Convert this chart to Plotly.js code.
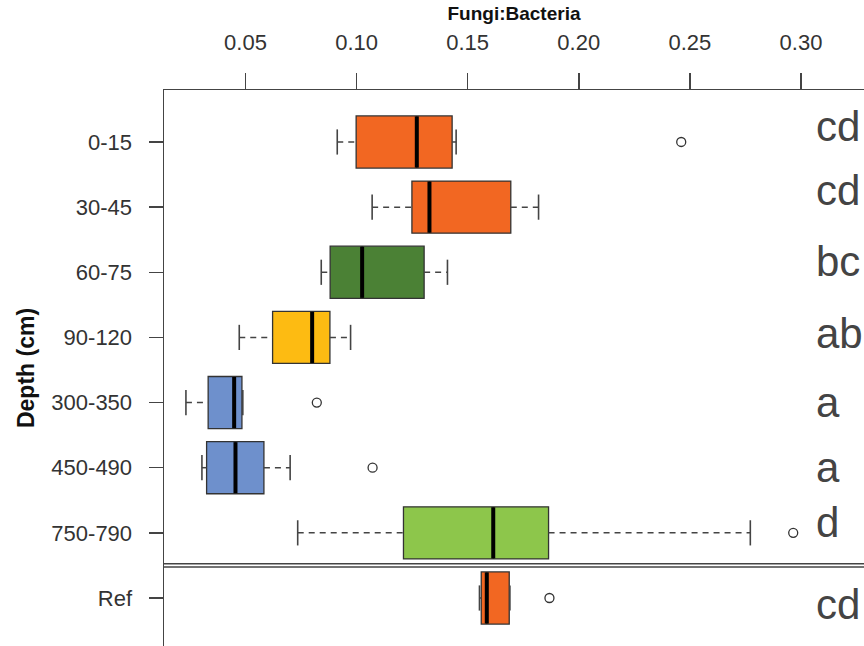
<!DOCTYPE html>
<html>
<head>
<meta charset="utf-8">
<script src="https://cdn.plot.ly/plotly-3.0.1.min.js"></script>
<style>html,body{margin:0;padding:0;background:#fff;}#chart{width:864px;height:646px;}</style>
</head>
<body>
<div id="chart"></div>
<script>
// ---- data ----
const categories = ['0-15','30-45','60-75','90-120','300-350','450-490','750-790','Ref'];
const lowWhisker  = [0.0913, 0.1070, 0.0841, 0.0472, 0.0232, 0.0304, 0.0735, 0.1553];
const q1Values    = [0.0998, 0.1249, 0.0881, 0.0622, 0.0332, 0.0325, 0.1211, 0.1561];
const medianValues= [0.1271, 0.1328, 0.1025, 0.0800, 0.0449, 0.0455, 0.1615, 0.1586];
const q3Values    = [0.1430, 0.1694, 0.1304, 0.0880, 0.0484, 0.0583, 0.1864, 0.1687];
const highWhisker = [0.1448, 0.1819, 0.1409, 0.0973, 0.0488, 0.0701, 0.2772, 0.1690];
const outlierValues = [[0.2461], [], [], [], [0.0821], [0.1072], [0.2965], [0.1868]];
const groupLetters = ['cd','cd','bc','ab','a','a','d','cd'];
const tickValues = [0.05, 0.10, 0.15, 0.20, 0.25, 0.30];
const tickLabels = ['0.05','0.10','0.15','0.20','0.25','0.30'];

// ---- styling ----
const boxColors = ['#F26722','#F26722','#4B8135','#FDBB12','#6E90CC','#6E90CC','#8DC64B','#F26722'];
const letterShift = [15, 17, 11, 4, 0, 0, 10, -7];
const ink = '#333333';
const FONT = '"Liberation Sans", Arial, Helvetica, sans-serif';

const traces = [];

// dashed whiskers
const wx = [], wy = [];
categories.forEach((c, i) => {
  wx.push(lowWhisker[i], q1Values[i], null, q3Values[i], highWhisker[i], null);
  wy.push(c, c, null, c, c, null);
});
traces.push({type:'scatter', mode:'lines', x:wx, y:wy, line:{color:'#444', width:1.5, dash:'6px,5px'},
  hoverinfo:'skip', showlegend:false});

// boxes
categories.forEach((c, i) => {
  traces.push({
    type:'box', orientation:'h', y:[c],
    q1:[q1Values[i]], median:[medianValues[i]], q3:[q3Values[i]],
    lowerfence:[q1Values[i]], upperfence:[q3Values[i]],
    width:0.8, whiskerwidth:0, fillcolor:boxColors[i],
    line:{color:ink, width:1.3}, hoverinfo:'skip', showlegend:false
  });
});

// whisker caps (line-ns symbol length = 1.4 * size)
const cx = [], cy = [];
categories.forEach((c, i) => { cx.push(lowWhisker[i], highWhisker[i]); cy.push(c, c); });
traces.push({type:'scatter', mode:'markers', x:cx, y:cy,
  marker:{symbol:'line-ns-open', size:18, color:'#444', line:{color:'#444', width:1.6}},
  hoverinfo:'skip', showlegend:false});

// medians
traces.push({type:'scatter', mode:'markers', x:medianValues, y:categories,
  marker:{symbol:'line-ns-open', size:36.5, color:'#000000', line:{color:'#000000', width:4}},
  hoverinfo:'skip', showlegend:false});

// outliers
const ox = [], oy = [];
categories.forEach((c, i) => outlierValues[i].forEach(v => { ox.push(v); oy.push(c); }));
traces.push({type:'scatter', mode:'markers', x:ox, y:oy,
  marker:{symbol:'circle-open', size:9, color:ink, line:{color:ink, width:1.3}},
  hoverinfo:'skip', showlegend:false});

const annotations = categories.map((c, i) => ({
  xref:'paper', yref:'y', x:0.928, y:c, xanchor:'left', yanchor:'middle',
  yshift:letterShift[i], text:groupLetters[i], showarrow:false,
  font:{family:FONT, size:42, color:'#444444'}
}));

const layout = {
  width:864, height:646,
  margin:{l:164, r:0, t:90, b:0, pad:0},
  paper_bgcolor:'#ffffff', plot_bgcolor:'#ffffff',
  showlegend:false, boxmode:'overlay',
  font:{family:FONT, color:ink},
  xaxis:{
    side:'top', range:[0.01333, 0.32836], tickvals:tickValues, ticktext:tickLabels,
    ticks:'outside', ticklen:16, tickwidth:1.5, tickcolor:'#444',
    showline:true, linecolor:'#444', linewidth:1.5, mirror:false,
    showgrid:false, zeroline:false, ticklabelstandoff:14,
    tickfont:{family:FONT, size:22, color:ink},
    title:{text:'Fungi:Bacteria', standoff:4, font:{family:FONT, size:19, color:'#111', weight:'bold'}}
  },
  yaxis:{
    type:'category', categoryorder:'array', categoryarray:categories,
    range:[7.737, -0.798],
    ticks:'outside', ticklen:14, tickwidth:1.5, tickcolor:'#444',
    showline:true, linecolor:'#444', linewidth:1.5, mirror:false,
    showgrid:false, zeroline:false, ticklabelstandoff:12,
    tickfont:{family:FONT, size:22, color:ink},
    title:{text:'Depth (cm)', standoff:10, font:{family:FONT, size:23, color:'#111', weight:'bold'}}
  },
  shapes:[
    {type:'line', xref:'paper', x0:0, x1:1, yref:'y', ysizemode:'pixel', yanchor:6.5, y0:-1.7, y1:-1.7, line:{color:'#444', width:1.5}},
    {type:'line', xref:'paper', x0:0, x1:1, yref:'y', ysizemode:'pixel', yanchor:6.5, y0:1.7, y1:1.7, line:{color:'#444', width:1.5}}
  ],
  annotations:annotations
};

Plotly.newPlot('chart', traces, layout, {staticPlot:true, displayModeBar:false});
</script>
</body>
</html>
